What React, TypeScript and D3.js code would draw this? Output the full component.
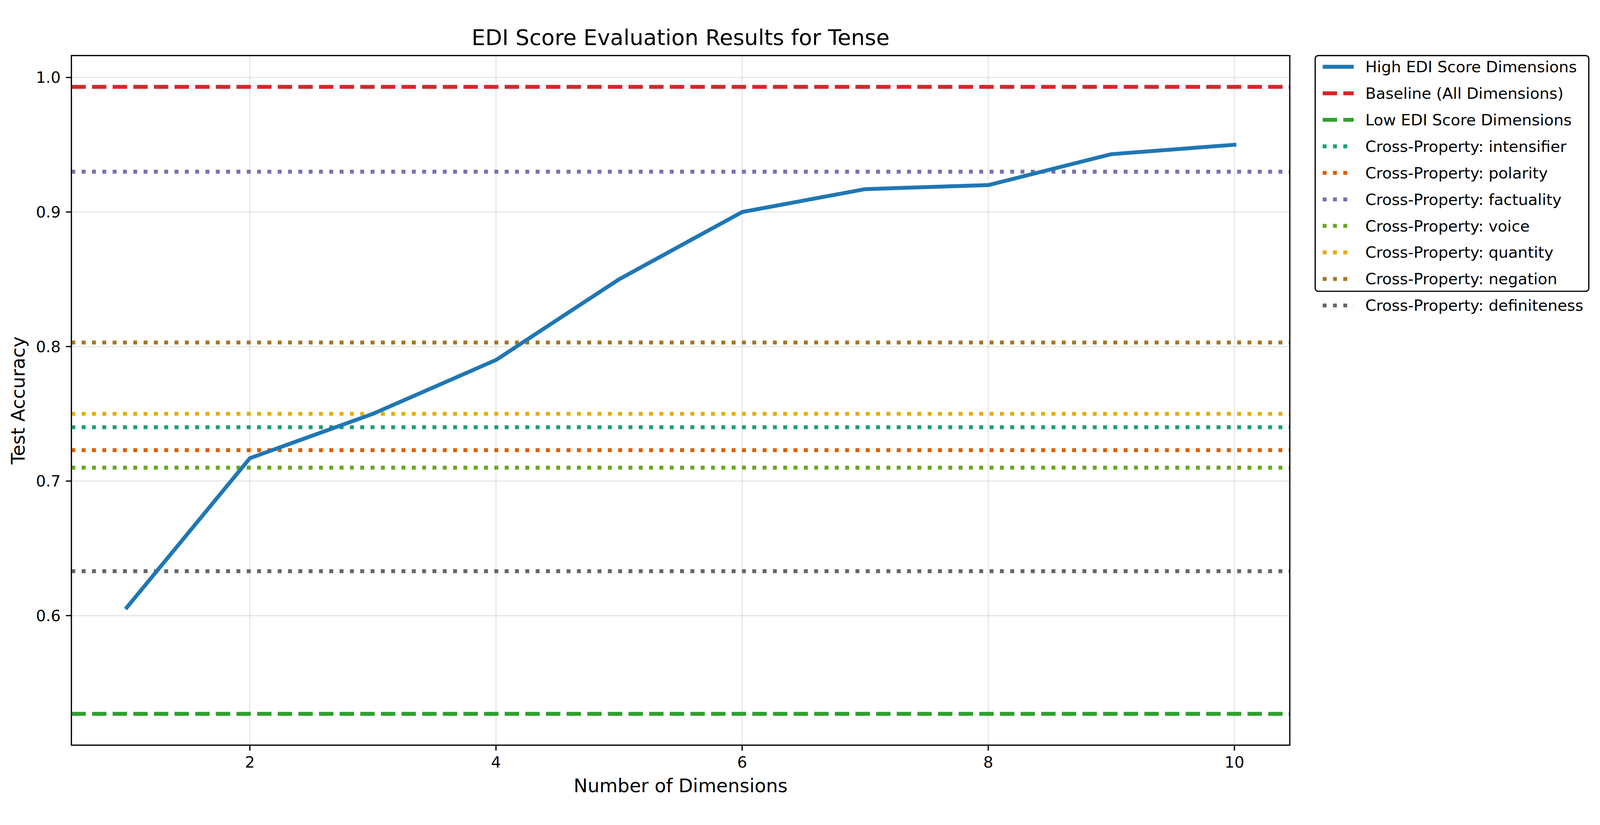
import * as d3 from "d3";

const dims = [1, 2, 3, 4, 5, 6, 7, 8, 9, 10];
const highEdi = [0.606, 0.717, 0.75, 0.79, 0.85, 0.9, 0.917, 0.92, 0.943, 0.95];
const xTicks = [2, 4, 6, 8, 10];
const yTicks = [0.6, 0.7, 0.8, 0.9, 1.0];

const refNames = [
  "Baseline (All Dimensions)",
  "Low EDI Score Dimensions",
  "Cross-Property: intensifier",
  "Cross-Property: polarity",
  "Cross-Property: factuality",
  "Cross-Property: voice",
  "Cross-Property: quantity",
  "Cross-Property: negation",
  "Cross-Property: definiteness",
];
const refValues = [0.993, 0.527, 0.74, 0.723, 0.93, 0.71, 0.75, 0.803, 0.633];
const refColors = ["#d62728", "#2ca02c", "#1b9e77", "#d95f02", "#7570b3", "#66a61e", "#e6ab02", "#a6761d", "#666666"];
const refStyles = ["dashed", "dashed", "dotted", "dotted", "dotted", "dotted", "dotted", "dotted", "dotted"];

const W = 4281;
const H = 2113;
const pt = 300 / 72;
const lw = 2.5 * pt;
const dash = (s: string) =>
  s === "dashed" ? `${3.7 * lw},${1.6 * lw}` : `${1 * lw},${1.65 * lw}`;
const font = "DejaVu Sans, sans-serif";

export default function App() {
  const left = 191, right = 3451, top = 101, bottom = 1947;
  const x = d3.scaleLinear().domain([0.55, 10.45]).range([left, right]);
  const y = d3.scaleLinear().domain([0.5037, 1.0163]).range([bottom, top]);
  const line = d3
    .line<number>()
    .x((_, i) => x(dims[i]))
    .y((d) => y(d));

  const legendItems = [
    { name: "High EDI Score Dimensions", color: "#1f77b4", style: "solid" },
    ...refNames.map((n, i) => ({ name: n, color: refColors[i], style: refStyles[i] })),
  ];
  const lgX = 3519, lgY = 101, lgW = 732, lgH = 631, rowH = 71;

  return (
    <svg
      viewBox={`0 0 ${W} ${H}`}
      style={{ display: "block", position: "fixed", left: 0, top: 0, width: "100vw", height: "100vh", background: "#fff" }}
    >
      <rect width={W} height={H} fill="#fff" />
      <defs>
        <clipPath id="plot">
          <rect x={left} y={top} width={right - left} height={bottom - top} />
        </clipPath>
      </defs>
      {/* grid */}
      {xTicks.map((t) => (
        <line key={"gx" + t} x1={x(t)} x2={x(t)} y1={top} y2={bottom} stroke="#b0b0b0" strokeOpacity={0.3} strokeWidth={0.8 * pt} />
      ))}
      {yTicks.map((t) => (
        <line key={"gy" + t} x1={left} x2={right} y1={y(t)} y2={y(t)} stroke="#b0b0b0" strokeOpacity={0.3} strokeWidth={0.8 * pt} />
      ))}
      <g clipPath="url(#plot)">
        {refValues.map((v, i) => (
          <line key={refNames[i]} x1={left} x2={right} y1={y(v)} y2={y(v)} stroke={refColors[i]} strokeWidth={lw} strokeDasharray={dash(refStyles[i])} />
        ))}
        <path d={line(highEdi) || ""} fill="none" stroke="#1f77b4" strokeWidth={lw} strokeLinejoin="round" strokeLinecap="square" />
      </g>
      <rect x={left} y={top} width={right - left} height={bottom - top} fill="none" stroke="#000" strokeWidth={0.8 * pt} />
      {/* ticks */}
      {xTicks.map((t) => (
        <g key={"tx" + t}>
          <line x1={x(t)} x2={x(t)} y1={bottom} y2={bottom + 3.5 * pt} stroke="#000" strokeWidth={0.8 * pt} />
          <text x={x(t)} y={bottom + 3.5 * pt + 14 + 32} textAnchor="middle" fontSize={10 * pt} fontFamily={font}>{t}</text>
        </g>
      ))}
      {yTicks.map((t) => (
        <g key={"ty" + t}>
          <line x1={left - 3.5 * pt} x2={left} y1={y(t)} y2={y(t)} stroke="#000" strokeWidth={0.8 * pt} />
          <text x={left - 3.5 * pt - 14} y={y(t)} dy="0.35em" textAnchor="end" fontSize={10 * pt} fontFamily={font}>{t.toFixed(1)}</text>
        </g>
      ))}
      <text x={(left + right) / 2} y={72} textAnchor="middle" fontSize={14 * pt} fontFamily={font}>EDI Score Evaluation Results for Tense</text>
      <text x={(left + right) / 2} y={2073} textAnchor="middle" fontSize={12 * pt} fontFamily={font}>Number of Dimensions</text>
      <text transform={`translate(66,${(top + bottom) / 2}) rotate(-90)`} textAnchor="middle" fontSize={12 * pt} fontFamily={font}>Test Accuracy</text>
      {/* legend */}
      <rect x={lgX} y={lgY} width={lgW} height={lgH} rx={8} fill="#fff" stroke="#000" strokeWidth={0.8 * pt} />
      {legendItems.map((it, i) => {
        const cy = lgY + 30 + i * rowH;
        return (
          <g key={it.name}>
            <line x1={lgX + 20} x2={lgX + 103} y1={cy} y2={cy} stroke={it.color} strokeWidth={lw} strokeDasharray={it.style === "solid" ? undefined : dash(it.style)} />
            <text x={lgX + 134} y={cy} dy="0.35em" fontSize={10 * pt} fontFamily={font}>{it.name}</text>
          </g>
        );
      })}
    </svg>
  );
}
